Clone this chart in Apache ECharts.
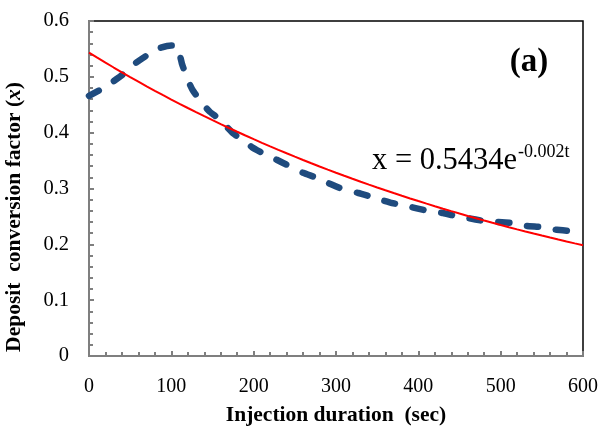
<!DOCTYPE html>
<html>
<head>
<meta charset="utf-8">
<script src="https://cdn.jsdelivr.net/npm/echarts@6/dist/echarts.min.js"></script>
<style>
  html, body { margin: 0; padding: 0; background: #fff; }
  #chart { width: 602px; height: 426px; }
</style>
</head>
<body>
<div id="chart"></div>
<script>
// Injection time (sec) and measured deposit conversion factor x
const injectionTime = [0, 20, 40, 55, 72, 87, 100, 107, 113, 120, 126, 137, 147, 155, 165, 175, 186, 198, 210, 222, 234, 248, 260, 277, 287, 301, 311, 327, 339, 356, 368, 384, 412, 430, 445, 460, 479, 497, 515, 532, 550, 568, 585];
const conversionFactor = [0.466, 0.482, 0.503, 0.523, 0.540, 0.552, 0.556, 0.556, 0.523, 0.494, 0.476, 0.453, 0.437, 0.428, 0.414, 0.399, 0.387, 0.374, 0.364, 0.356, 0.347, 0.337, 0.328, 0.319, 0.312, 0.303, 0.297, 0.292, 0.287, 0.279, 0.274, 0.269, 0.260, 0.256, 0.251, 0.247, 0.242, 0.240, 0.238, 0.233, 0.231, 0.226, 0.224];

// Exponential trend line x = A * e^(-k t)
const fitA = 0.5434;
const fitK = 0.00168;
const fitRange = [0, 600];

const xTicks = { min: 0, max: 600, interval: 100 };
const yTicks = { min: 0, max: 0.6, interval: 0.1 };

const measured = injectionTime.map((t, i) => [t, conversionFactor[i]]);
const trend = [];
for (let t = fitRange[0]; t <= fitRange[1]; t += 10) {
  trend.push([t, fitA * Math.exp(-fitK * t)]);
}

const serif = "'Liberation Serif', 'Times New Roman', serif";
const axisGray = '#7f7f7f';

// equation text: main part followed by a superscript exponent
const eqMain = 'x = ' + fitA.toFixed(4) + 'e';
const eqExp = '-' + fitK.toFixed(3) + 't';
const eqFont = 30.5;
const eqX = 372;
const measureCtx = document.createElement('canvas').getContext('2d');
measureCtx.font = eqFont + "px 'Liberation Serif'";
const eqMainWidth = measureCtx.measureText(eqMain).width;

const tickStyle = { color: axisGray, width: 2 };

const chart = echarts.init(document.getElementById('chart'), null, { renderer: 'canvas' });
chart.setOption({
  animation: false,
  backgroundColor: '#ffffff',
  grid: {
    left: 89, right: 19, top: 21, bottom: 70,
    outerBoundsMode: 'none',
    containLabel: false,
    show: true, borderColor: '#000', borderWidth: 1.5, backgroundColor: 'transparent'
  },
  xAxis: {
    type: 'value',
    min: xTicks.min, max: xTicks.max, interval: xTicks.interval,
    axisLine: { show: true, onZero: false, lineStyle: { color: axisGray, width: 2 } },
    axisTick: { show: true, inside: true, length: 5, lineStyle: tickStyle },
    minorTick: { show: true, splitNumber: 5, length: 4, lineStyle: tickStyle },
    splitLine: { show: false },
    axisLabel: { color: '#000', fontFamily: serif, fontSize: 20, margin: 21 },
    name: 'Injection duration  (sec)',
    nameLocation: 'middle',
    nameGap: 48,
    nameTextStyle: { color: '#000', fontFamily: serif, fontSize: 21.5, fontWeight: 'bold' }
  },
  yAxis: {
    type: 'value',
    min: yTicks.min, max: yTicks.max, interval: yTicks.interval,
    axisLine: { show: true, onZero: false, lineStyle: { color: axisGray, width: 2 } },
    axisTick: { show: true, inside: true, length: 5, lineStyle: tickStyle },
    minorTick: { show: true, splitNumber: 5, length: 4, lineStyle: tickStyle },
    splitLine: { show: false },
    axisLabel: {
      color: '#000', fontFamily: serif, fontSize: 20.5, margin: 20,
      formatter: v => (v === 0 ? '0' : v.toFixed(1))
    }
  },
  series: [
    {
      type: 'line',
      data: measured,
      showSymbol: false,
      smooth: 0.1,
      lineStyle: { color: '#1F4B7E', width: 6.5, type: [11, 18], cap: 'round', join: 'round' },
      z: 3
    },
    {
      type: 'line',
      data: trend,
      showSymbol: false,
      lineStyle: { color: '#FF0000', width: 2 },
      z: 4
    }
  ],
  graphic: [
    {
      type: 'text', left: 3, top: 82, rotation: Math.PI / 2,
      style: {
        text: '{b|Deposit  conversion factor (}{i|x}{b|)}',
        rich: {
          b: { fontFamily: serif, fontSize: 21.5, fontWeight: 'bold', fill: '#000' },
          i: { fontFamily: serif, fontSize: 21.5, fontWeight: 'bold', fontStyle: 'italic', fill: '#000' }
        }
      }
    },
    {
      type: 'text', x: 529, y: 62,
      style: {
        text: '(a)', fontFamily: serif, fontSize: 33, fontWeight: 'bold',
        fill: '#000', align: 'center', verticalAlign: 'middle'
      }
    },
    {
      type: 'text', x: eqX, y: 161,
      style: {
        text: eqMain, fontFamily: serif, fontSize: eqFont,
        fill: '#000', align: 'left', verticalAlign: 'middle'
      }
    },
    {
      type: 'text', x: eqX + eqMainWidth + 1, y: 152,
      style: {
        text: eqExp, fontFamily: serif, fontSize: 18,
        fill: '#000', align: 'left', verticalAlign: 'middle'
      }
    }
  ]
});
</script>
</body>
</html>
